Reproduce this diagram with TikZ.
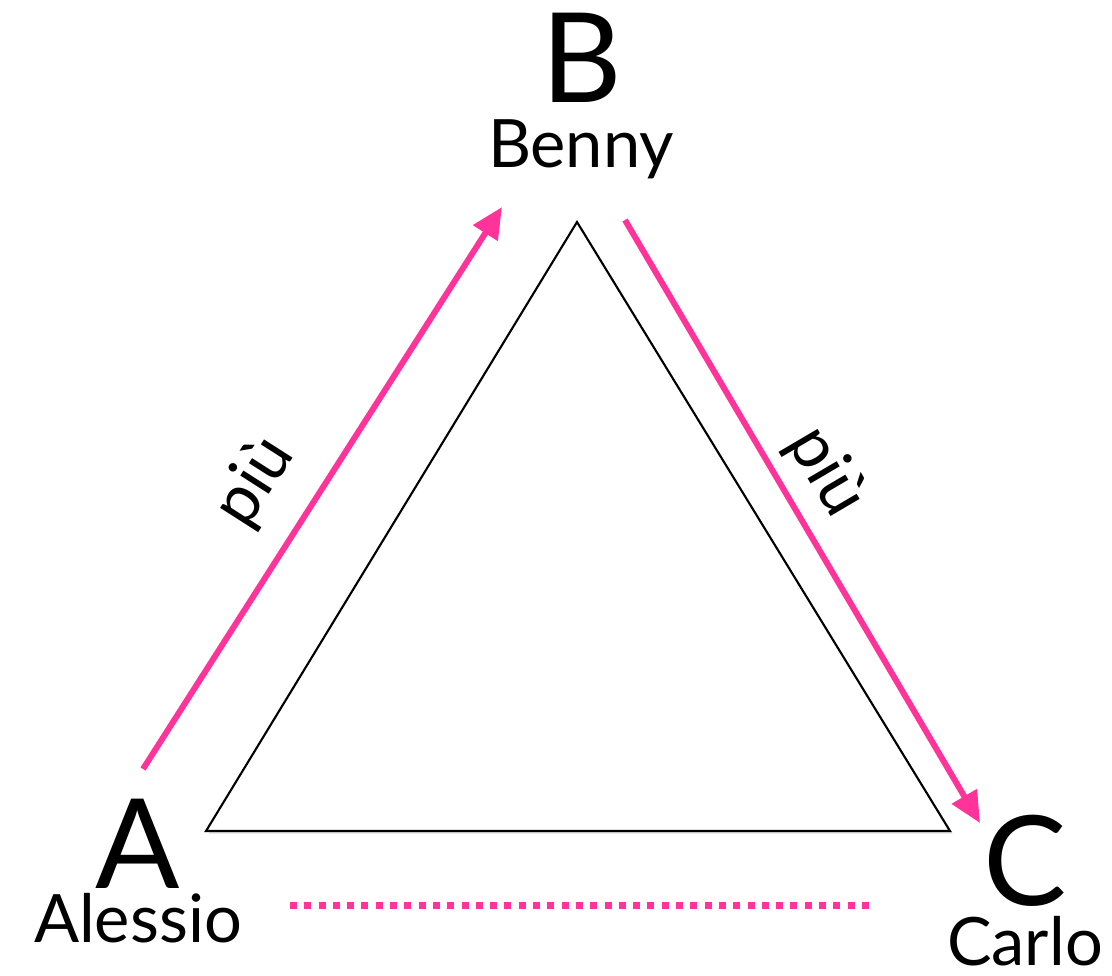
\documentclass[tikz,border=0pt]{standalone}
\usepackage{fontspec}
\setmainfont{Lato}
\usetikzlibrary{arrows.meta,shadows}
\definecolor{hotpink}{HTML}{FF3399}
\tikzset{
  bigletter/.style={anchor=base,inner sep=0pt,font=\fontsize{71}{71}\selectfont},
  namelabel/.style={anchor=base,inner sep=0pt,font=\fontsize{38}{38}\selectfont},
  pinkarrow/.style={draw=hotpink,line width=6\pgflinewidth,-{Triangle[length=32\pgflinewidth/6*1.0,width=28\pgflinewidth/6*1.0]}},
  edgelabel/.style={inner sep=0pt,font=\fontsize{38}{38}\selectfont},
  tri/.style={draw=black,line width=1.2pt,fill=white,drop shadow={shadow xshift=1.5pt,shadow yshift=-1.5pt,opacity=0.25,fill=gray}},
}
\begin{document}
\begin{tikzpicture}[x=0.02cm,y=-0.02cm]
\useasboundingbox (0,0) rectangle (1112,975);
% triangle
\coordinate (tA) at (206,831);
\coordinate (tB) at (577,222);
\coordinate (tC) at (950,831);
\path[tri] (tA) -- (tB) -- (tC) -- cycle;
% labels
\node[bigletter] (A) at (138,888) {A};
\node[namelabel] (Alessio) at (138,942) {Alessio};
\node[bigletter] (B) at (582,102) {B};
\node[namelabel] (Benny) at (581,167) {Benny};
\node[bigletter] (C) at (1025,905) {C};
\node[namelabel] (Carlo) at (1025,965) {Carlo};
% arrows
\coordinate (a1) at (143,769);
\coordinate (a2) at (502,207);
\coordinate (c1) at (625,220);
\coordinate (c2) at (980,823);
\draw[hotpink,line width=3.4pt,-{Triangle[length=0.62cm,width=0.56cm]}] (a1) -- (a2);
\draw[hotpink,line width=3.4pt,-{Triangle[length=0.62cm,width=0.56cm]}] (c1) -- (c2);
\node[edgelabel,rotate=57.4] (p1) at (255,482) {più};
\node[edgelabel,rotate=-59.5] (p2) at (826,472) {più};
% dotted line
\coordinate (d1) at (290,905);
\coordinate (d2) at (874,905);
\draw[hotpink,line width=0.14cm,dash pattern=on 0.14cm off 0.146cm] (d1) -- (d2);
\end{tikzpicture}
\end{document}
